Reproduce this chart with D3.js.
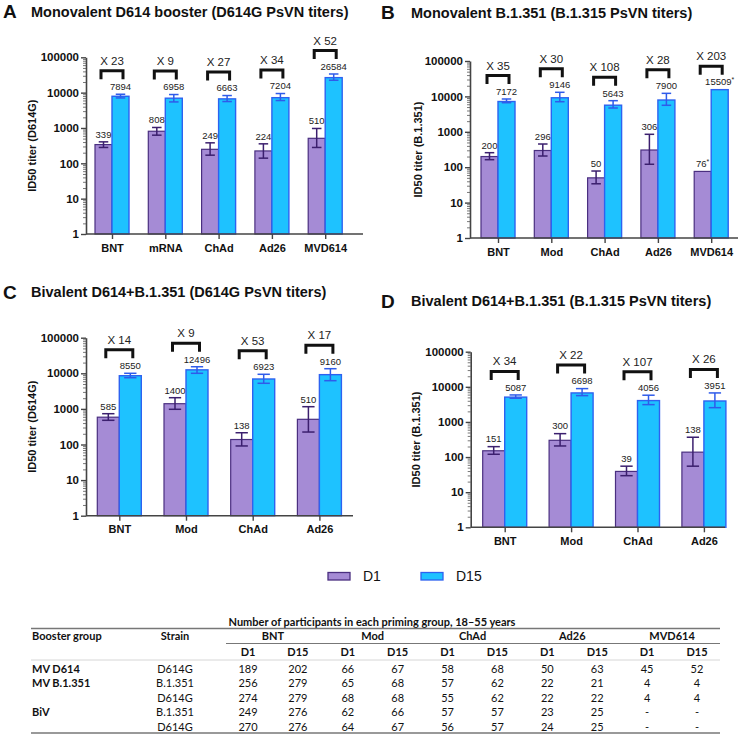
<!DOCTYPE html>
<html><head><meta charset="utf-8">
<script src="https://cdn.jsdelivr.net/npm/d3@7"></script>
<style>body{margin:0;background:#fff}svg{display:block}</style>
</head><body><svg id="c" width="738" height="734"></svg>
<script>
// ---------------- DATA ----------------
const catsA = ["BNT","mRNA","ChAd","Ad26","MVD614"];
const d1A   = [339,808,249,224,510];
const d1A_lo= [281,626,170,140,281];
const d1A_hi= [405,1033,380,356,968];
const d15A  = [7894,6958,6663,7204,26584];
const d15A_lo=[7080,5460,5600,5980,22400];
const d15A_hi=[9010,8840,8280,9440,33700];
const foldA = [23,9,27,34,52];

const catsB = ["BNT","Mod","ChAd","Ad26","MVD614"];
const d1B   = [200,296,50,306,76];
const d1B_lo= [163,207,34,121,null];
const d1B_hi= [257,452,78,850,null];
const d15B  = [7172,9146,5643,7900,15509];
const d15B_lo=[6640,7080,4700,5610,null];
const d15B_hi=[8450,13060,7570,12200,null];
const foldB = [35,30,108,28,203];
const starB = [false,false,false,false,true];

const catsC = ["BNT","Mod","ChAd","Ad26"];
const d1C   = [585,1400,138,510];
const d1C_lo= [478,975,91,224];
const d1C_hi= [733,2063,214,1153];
const d15C  = [8550,12496,6923,9160];
const d15C_lo=[7520,10000,5240,6200];
const d15C_hi=[10000,15300,9380,13460];
const foldC = [14,9,53,17];

const catsD = ["BNT","Mod","ChAd","Ad26"];
const d1D   = [151,300,39,138];
const d1D_lo= [120,207,29.5,55];
const d1D_hi= [198,464,55,367];
const d15D  = [5087,6698,4056,3951];
const d15D_lo=[4730,5610,3110,2550];
const d15D_hi=[5870,8890,5770,6700];
const foldD = [34,22,107,26];

const yTicks = [1,10,100,1000,10000,100000];
const seriesNames = ["D1","D15"];

const tableTitle = "Number of participants in each priming group, 18\u201355 years";
const tableGroups = ["BNT","Mod","ChAd","Ad26","MVD614"];
const tableBooster = ["MV D614","MV B.1.351","","BiV",""];
const tableStrain = ["D614G","B.1.351","D614G","B.1.351","D614G"];
const tableCounts = [
  [189,202,66,67,58,68,50,63,45,52],
  [256,279,65,68,57,62,22,21,4,4],
  [274,279,68,68,55,62,22,22,4,4],
  [249,276,62,66,57,57,23,25,"-","-"],
  [270,276,64,67,56,57,24,25,"-","-"]
];

// ---------------- STYLE ----------------
const C1 = "#a58bd5", C1s = "#4a2f80", C1e = "#3b1f6e";
const C2 = "#1ec2ff", C2s = "#2d62f0", C2e = "#2f5bea";
const FONT = "'Liberation Sans', Arial, sans-serif";
const TFONT = "Lato, 'Liberation Sans', sans-serif";

const svg = d3.select("#c");
svg.append("rect").attr("width",738).attr("height",734).attr("fill","#fff");

const panels = [
  {letter:"A", title:"Monovalent D614 booster (D614G PsVN titers)", ylab:"ID50 titer (D614G)",
   cats:catsA, d1:d1A, d1lo:d1A_lo, d1hi:d1A_hi, d15:d15A, d15lo:d15A_lo, d15hi:d15A_hi, fold:foldA, star:null,
   L:{lx:3, ly:11, tx:31, ty:12, ax:86, yTop:57.3, yBot:234, c0:112, step:53.3, bw:17, xEnd:363, ylx:32}},
  {letter:"B", title:"Monovalent B.1.351 (B.1.315 PsVN titers)", ylab:"ID50 titer (B.1.351)",
   cats:catsB, d1:d1B, d1lo:d1B_lo, d1hi:d1B_hi, d15:d15B, d15lo:d15B_lo, d15hi:d15B_hi, fold:foldB, star:starB,
   L:{lx:381, ly:12, tx:411, ty:13, ax:470, yTop:61, yBot:238, c0:498, step:53.3, bw:17, xEnd:738, ylx:418}},
  {letter:"C", title:"Bivalent D614+B.1.351 (D614G PsVN titers)", ylab:"ID50 titer (D614G)",
   cats:catsC, d1:d1C, d1lo:d1C_lo, d1hi:d1C_hi, d15:d15C, d15lo:d15C_lo, d15hi:d15C_hi, fold:foldC, star:null,
   L:{lx:3, ly:292, tx:31, ty:292, ax:86, yTop:337.7, yBot:515.7, c0:119.3, step:66.7, bw:22, xEnd:353, ylx:32}},
  {letter:"D", title:"Bivalent D614+B.1.351 (B.1.315 PsVN titers)", ylab:"ID50 titer (B.1.351)",
   cats:catsD, d1:d1D, d1lo:d1D_lo, d1hi:d1D_hi, d15:d15D, d15lo:d15D_lo, d15hi:d15D_hi, fold:foldD, star:null,
   L:{lx:381, ly:301, tx:411, ty:301, ax:470.7, yTop:351.7, yBot:527.3, c0:504.7, step:66.4, bw:22, xEnd:725, ylx:416}}
];

function drawPanel(p){
  const L = p.L, n = p.cats.length;
  const g = svg.append("g");
  const y = d3.scaleLog().domain([1,100000]).range([L.yBot, L.yTop]);
  const x = d3.scalePoint().domain(p.cats).range([L.c0, L.c0 + L.step*(n-1)]);

  // titles
  g.append("text").attr("x",L.lx).attr("y",L.ly).attr("dy","0.35em")
    .attr("font-family",FONT).attr("font-weight","bold").attr("font-size",19).attr("fill","#111").text(p.letter);
  g.append("text").attr("x",L.tx).attr("y",L.ty).attr("dy","0.35em")
    .attr("font-family",FONT).attr("font-weight","bold").attr("font-size",14.5).attr("fill","#111").text(p.title);
  g.append("text").attr("transform",`translate(${L.ylx},${(L.yTop+L.yBot)/2}) rotate(-90)`)
    .attr("text-anchor","middle").attr("dy","0.35em")
    .attr("font-family",FONT).attr("font-weight","bold").attr("font-size",11).attr("fill","#111").text(p.ylab);

  const idx = d3.range(n);
  // bars
  g.selectAll(".b1").data(idx).join("rect")
    .attr("x",i=>x(p.cats[i])-L.bw).attr("y",i=>y(p.d1[i]))
    .attr("width",L.bw).attr("height",i=>L.yBot-y(p.d1[i]))
    .attr("fill",C1).attr("stroke",C1s).attr("stroke-width",1.2);
  g.selectAll(".b2").data(idx).join("rect")
    .attr("x",i=>x(p.cats[i])).attr("y",i=>y(p.d15[i]))
    .attr("width",L.bw).attr("height",i=>L.yBot-y(p.d15[i]))
    .attr("fill",C2).attr("stroke",C2s).attr("stroke-width",1.4);

  // error bars
  const cap = L.bw*0.28;
  function err(vals, lo, hi, off, col){
    idx.forEach(i=>{
      if(lo[i]==null) return;
      const cx = x(p.cats[i]) + off;
      const e = g.append("g").attr("stroke",col).attr("stroke-width",1.5).attr("fill","none");
      e.append("line").attr("x1",cx).attr("x2",cx).attr("y1",y(lo[i])).attr("y2",y(hi[i]));
      e.append("line").attr("x1",cx-cap).attr("x2",cx+cap).attr("y1",y(lo[i])).attr("y2",y(lo[i]));
      e.append("line").attr("x1",cx-cap).attr("x2",cx+cap).attr("y1",y(hi[i])).attr("y2",y(hi[i]));
    });
  }
  err(p.d1, p.d1lo, p.d1hi, -L.bw/2, C1e);
  err(p.d15, p.d15lo, p.d15hi, L.bw/2, C2e);

  // value labels
  function labels(vals, hi, off){
    const ys = [];
    idx.forEach(i=>{
      const top = hi[i]!=null ? y(hi[i]) : y(vals[i]);
      const ly = top - 7.5;
      ys.push(ly);
      const t = g.append("text").attr("x",x(p.cats[i])+off).attr("y",ly).attr("dy","0.35em")
        .attr("text-anchor","middle").attr("font-family",FONT).attr("font-size",9.5).attr("fill","#222");
      t.append("tspan").text(vals[i]);
      if(p.star && p.star[i]) t.append("tspan").attr("dy",-3.5).attr("font-size",7).text("*");
    });
    return ys;
  }
  labels(p.d1, p.d1hi, -L.bw/2);
  const ys15 = labels(p.d15, p.d15hi, L.bw/2);

  // fold brackets
  const bh = L.bw/2 + 2.5;
  idx.forEach(i=>{
    const cx = x(p.cats[i]);
    const top = ys15[i] - 16;
    g.append("path")
      .attr("d",`M${cx-bh},${top+8.5}V${top}H${cx+bh}V${top+8.5}`)
      .attr("fill","none").attr("stroke","#111").attr("stroke-width",3);
    g.append("text").attr("x",cx).attr("y",top-10).attr("dy","0.35em").attr("text-anchor","middle")
      .attr("font-family",FONT).attr("font-size",11.5).attr("fill","#222").text("X " + p.fold[i]);
  });

  // axes
  const gy = g.append("g").attr("transform",`translate(${L.ax},0)`)
    .call(d3.axisLeft(y).tickValues(yTicks).tickFormat(d3.format("d")).tickSize(5).tickSizeOuter(0).tickPadding(2));
  gy.select(".domain").attr("stroke","#444").attr("stroke-width",1.6);
  gy.selectAll(".tick line").attr("stroke","#444").attr("stroke-width",1.4);
  gy.selectAll(".tick text").attr("font-family",FONT).attr("font-weight","bold").attr("font-size",11.5).attr("fill","#111");
  const minor = [];
  [1,10,100,1000,10000].forEach(d=>{ for(let k=2;k<=9;k++) minor.push(k*d); });
  const gm = g.append("g").attr("transform",`translate(${L.ax},0)`)
    .call(d3.axisLeft(y).tickValues(minor).tickFormat("").tickSize(3).tickSizeOuter(0));
  gm.select(".domain").remove();
  gm.selectAll(".tick line").attr("stroke","#555").attr("stroke-width",0.8);

  const gx = g.append("g").attr("transform",`translate(0,${L.yBot})`)
    .call(d3.axisBottom(x).tickSize(5).tickSizeOuter(0).tickPadding(5));
  gx.select(".domain").remove();
  gx.selectAll(".tick line").attr("stroke","#444").attr("stroke-width",1.4);
  gx.selectAll(".tick text").attr("font-family",FONT).attr("font-weight","bold").attr("font-size",11).attr("fill","#111");
  g.append("line").attr("x1",L.ax).attr("x2",L.xEnd).attr("y1",L.yBot).attr("y2",L.yBot)
    .attr("stroke","#444").attr("stroke-width",1.6);
}
panels.forEach(drawPanel);

// ---------------- LEGEND ----------------
const leg = svg.append("g");
const legX = d3.scalePoint().domain(seriesNames).range([328,421]);
seriesNames.forEach((s,i)=>{
  leg.append("rect").attr("x",legX(s)).attr("y",572.5).attr("width",22).attr("height",7.5)
    .attr("fill",i?C2:C1).attr("stroke",i?C2s:C1s).attr("stroke-width",1.3);
  leg.append("text").attr("x",legX(s)+35).attr("y",576.5).attr("dy","0.35em")
    .attr("font-family",FONT).attr("font-size",14).attr("fill","#111").text(s);
});

// ---------------- TABLE ----------------
const T = svg.append("g").attr("font-family",TFONT).attr("fill","#111");
const colX = d3.scalePoint().domain(d3.range(10)).range([248,697]);
const rowY = d3.scalePoint().domain(d3.range(5)).range([669,727]);
T.append("text").attr("x",372).attr("y",622).attr("dy","0.35em").attr("text-anchor","middle")
  .attr("font-weight","bold").attr("font-size",11).text(tableTitle);
T.append("line").attr("x1",31).attr("x2",720).attr("y1",628.5).attr("y2",628.5).attr("stroke","#777").attr("stroke-width",1.3);
T.append("text").attr("x",32).attr("y",636.5).attr("dy","0.35em").attr("font-weight","bold").attr("font-size",11).text("Booster group");
T.append("text").attr("x",175).attr("y",636.5).attr("dy","0.35em").attr("text-anchor","middle").attr("font-weight","bold").attr("font-size",11).text("Strain");
tableGroups.forEach((gname,i)=>{
  T.append("text").attr("x",(colX(2*i)+colX(2*i+1))/2).attr("y",636.5).attr("dy","0.35em")
    .attr("text-anchor","middle").attr("font-weight","bold").attr("font-size",11).text(gname);
  ["D1","D15"].forEach((s,j)=>{
    T.append("text").attr("x",colX(2*i+j)).attr("y",652.5).attr("dy","0.35em")
      .attr("text-anchor","middle").attr("font-weight","bold").attr("font-size",11).text(s);
  });
});
T.append("line").attr("x1",226).attr("x2",720).attr("y1",643.5).attr("y2",643.5).attr("stroke","#777").attr("stroke-width",1.1);
T.append("line").attr("x1",31).attr("x2",720).attr("y1",660).attr("y2",660).attr("stroke","#ccc").attr("stroke-width",0.8);
tableCounts.forEach((row,r)=>{
  const yy = rowY(r);
  if(tableBooster[r]) T.append("text").attr("x",32).attr("y",yy).attr("dy","0.35em").attr("font-weight","bold").attr("font-size",11).text(tableBooster[r]);
  T.append("text").attr("x",175).attr("y",yy).attr("dy","0.35em").attr("text-anchor","middle").attr("font-size",11).text(tableStrain[r]);
  row.forEach((v,c)=>{
    T.append("text").attr("x",colX(c)).attr("y",yy).attr("dy","0.35em").attr("text-anchor","middle").attr("font-size",11).text(v);
  });
});
T.append("line").attr("x1",31).attr("x2",720).attr("y1",733).attr("y2",733).attr("stroke","#777").attr("stroke-width",1.3);
</script></body></html>
